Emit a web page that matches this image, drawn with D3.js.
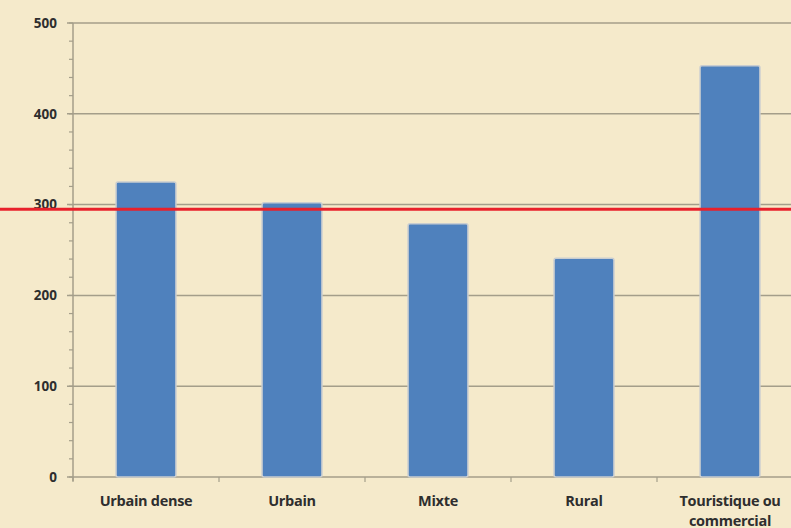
<!DOCTYPE html>
<head>
<meta charset="utf-8">
<script src="https://d3js.org/d3.v7.min.js"></script>
<style>
  body { margin: 0; background: #f5eacb; }
  text { font-family: "Open Sans", Lato, sans-serif; font-weight: bold; fill: #2e2e2e; }
</style>
</head>
<body>
<svg width="791" height="528"></svg>
<script>
// data
var categories = ["Urbain dense", "Urbain", "Mixte", "Rural", "Touristique ou commercial"];
var values = [325, 302, 279, 241, 453];
var average = 295;
var yTicks = [0, 100, 200, 300, 400, 500];

var svg = d3.select("svg"),
    margin = {top: 23, right: -12, bottom: 51, left: 73},
    width = +svg.attr("width") - margin.left - margin.right,
    height = +svg.attr("height") - margin.top - margin.bottom;

svg.append("rect").attr("width", 791).attr("height", 528).attr("fill", "#f5eacb");

var g = svg.append("g").attr("transform", "translate(" + margin.left + "," + margin.top + ")");

var x = d3.scaleBand()
    .domain(categories)
    .range([0, width])
    .paddingInner(0.59)
    .paddingOuter(0.295);

var y = d3.scaleLinear()
    .domain([0, 500])
    .range([height, 0]);

// gridlines
g.append("g")
    .selectAll("line")
    .data(yTicks)
    .enter().append("line")
    .attr("x1", -6)
    .attr("x2", width)
    .attr("y1", function(d) { return y(d); })
    .attr("y2", function(d) { return y(d); })
    .attr("stroke", "#a49e8a")
    .attr("stroke-width", 1.5);

// minor ticks
g.append("g")
    .selectAll("line")
    .data(d3.range(0, 501, 20))
    .enter().append("line")
    .attr("x1", -4)
    .attr("x2", 0)
    .attr("y1", function(d) { return y(d); })
    .attr("y2", function(d) { return y(d); })
    .attr("stroke", "#a49e8a")
    .attr("stroke-width", 1.2);

// y axis line
g.append("line")
    .attr("x1", 0).attr("x2", 0)
    .attr("y1", 0).attr("y2", height + 4)
    .attr("stroke", "#a49e8a")
    .attr("stroke-width", 1.5);

// category separators
var step = x.step();
g.append("g")
    .selectAll("line")
    .data(d3.range(0, categories.length + 1))
    .enter().append("line")
    .attr("x1", function(d) { return d * step; })
    .attr("x2", function(d) { return d * step; })
    .attr("y1", height)
    .attr("y2", height + 5)
    .attr("stroke", "#a49e8a")
    .attr("stroke-width", 1.2);

// y tick labels
g.append("g")
    .selectAll("text")
    .data(yTicks)
    .enter().append("text")
    .attr("x", -16)
    .attr("y", function(d) { return y(d); })
    .attr("dy", "0.35em")
    .attr("text-anchor", "end")
    .attr("font-size", 13.5)
    .text(function(d) { return d; });

// bars
g.append("g")
    .selectAll("rect")
    .data(values)
    .enter().append("rect")
    .attr("x", function(d, i) { return x(categories[i]); })
    .attr("y", function(d) { return y(d); })
    .attr("width", x.bandwidth())
    .attr("height", function(d) { return height - y(d); })
    .attr("rx", 2)
    .attr("fill", "#4f81bd")
    .attr("stroke", "#c9cdd0")
    .attr("stroke-width", 1.5);

// x labels
var labels = g.append("g")
    .selectAll("text")
    .data(categories)
    .enter().append("text")
    .attr("x", function(d) { return x(d) + x.bandwidth() / 2; })
    .attr("y", height + 29)
    .attr("text-anchor", "middle")
    .attr("font-size", 14.5)
    .attr("letter-spacing", -0.3);

labels.each(function(d) {
    var t = d3.select(this);
    if (d === "Touristique ou commercial") {
        t.append("tspan").attr("x", t.attr("x")).text("Touristique ou");
        t.append("tspan").attr("x", t.attr("x")).attr("dy", 20).text("commercial");
    } else {
        t.text(d);
    }
});

// average line
svg.append("line")
    .attr("x1", 0)
    .attr("x2", 791)
    .attr("y1", margin.top + y(average))
    .attr("y2", margin.top + y(average))
    .attr("stroke", "#e8212b")
    .attr("stroke-width", 3);
</script>
</body>
